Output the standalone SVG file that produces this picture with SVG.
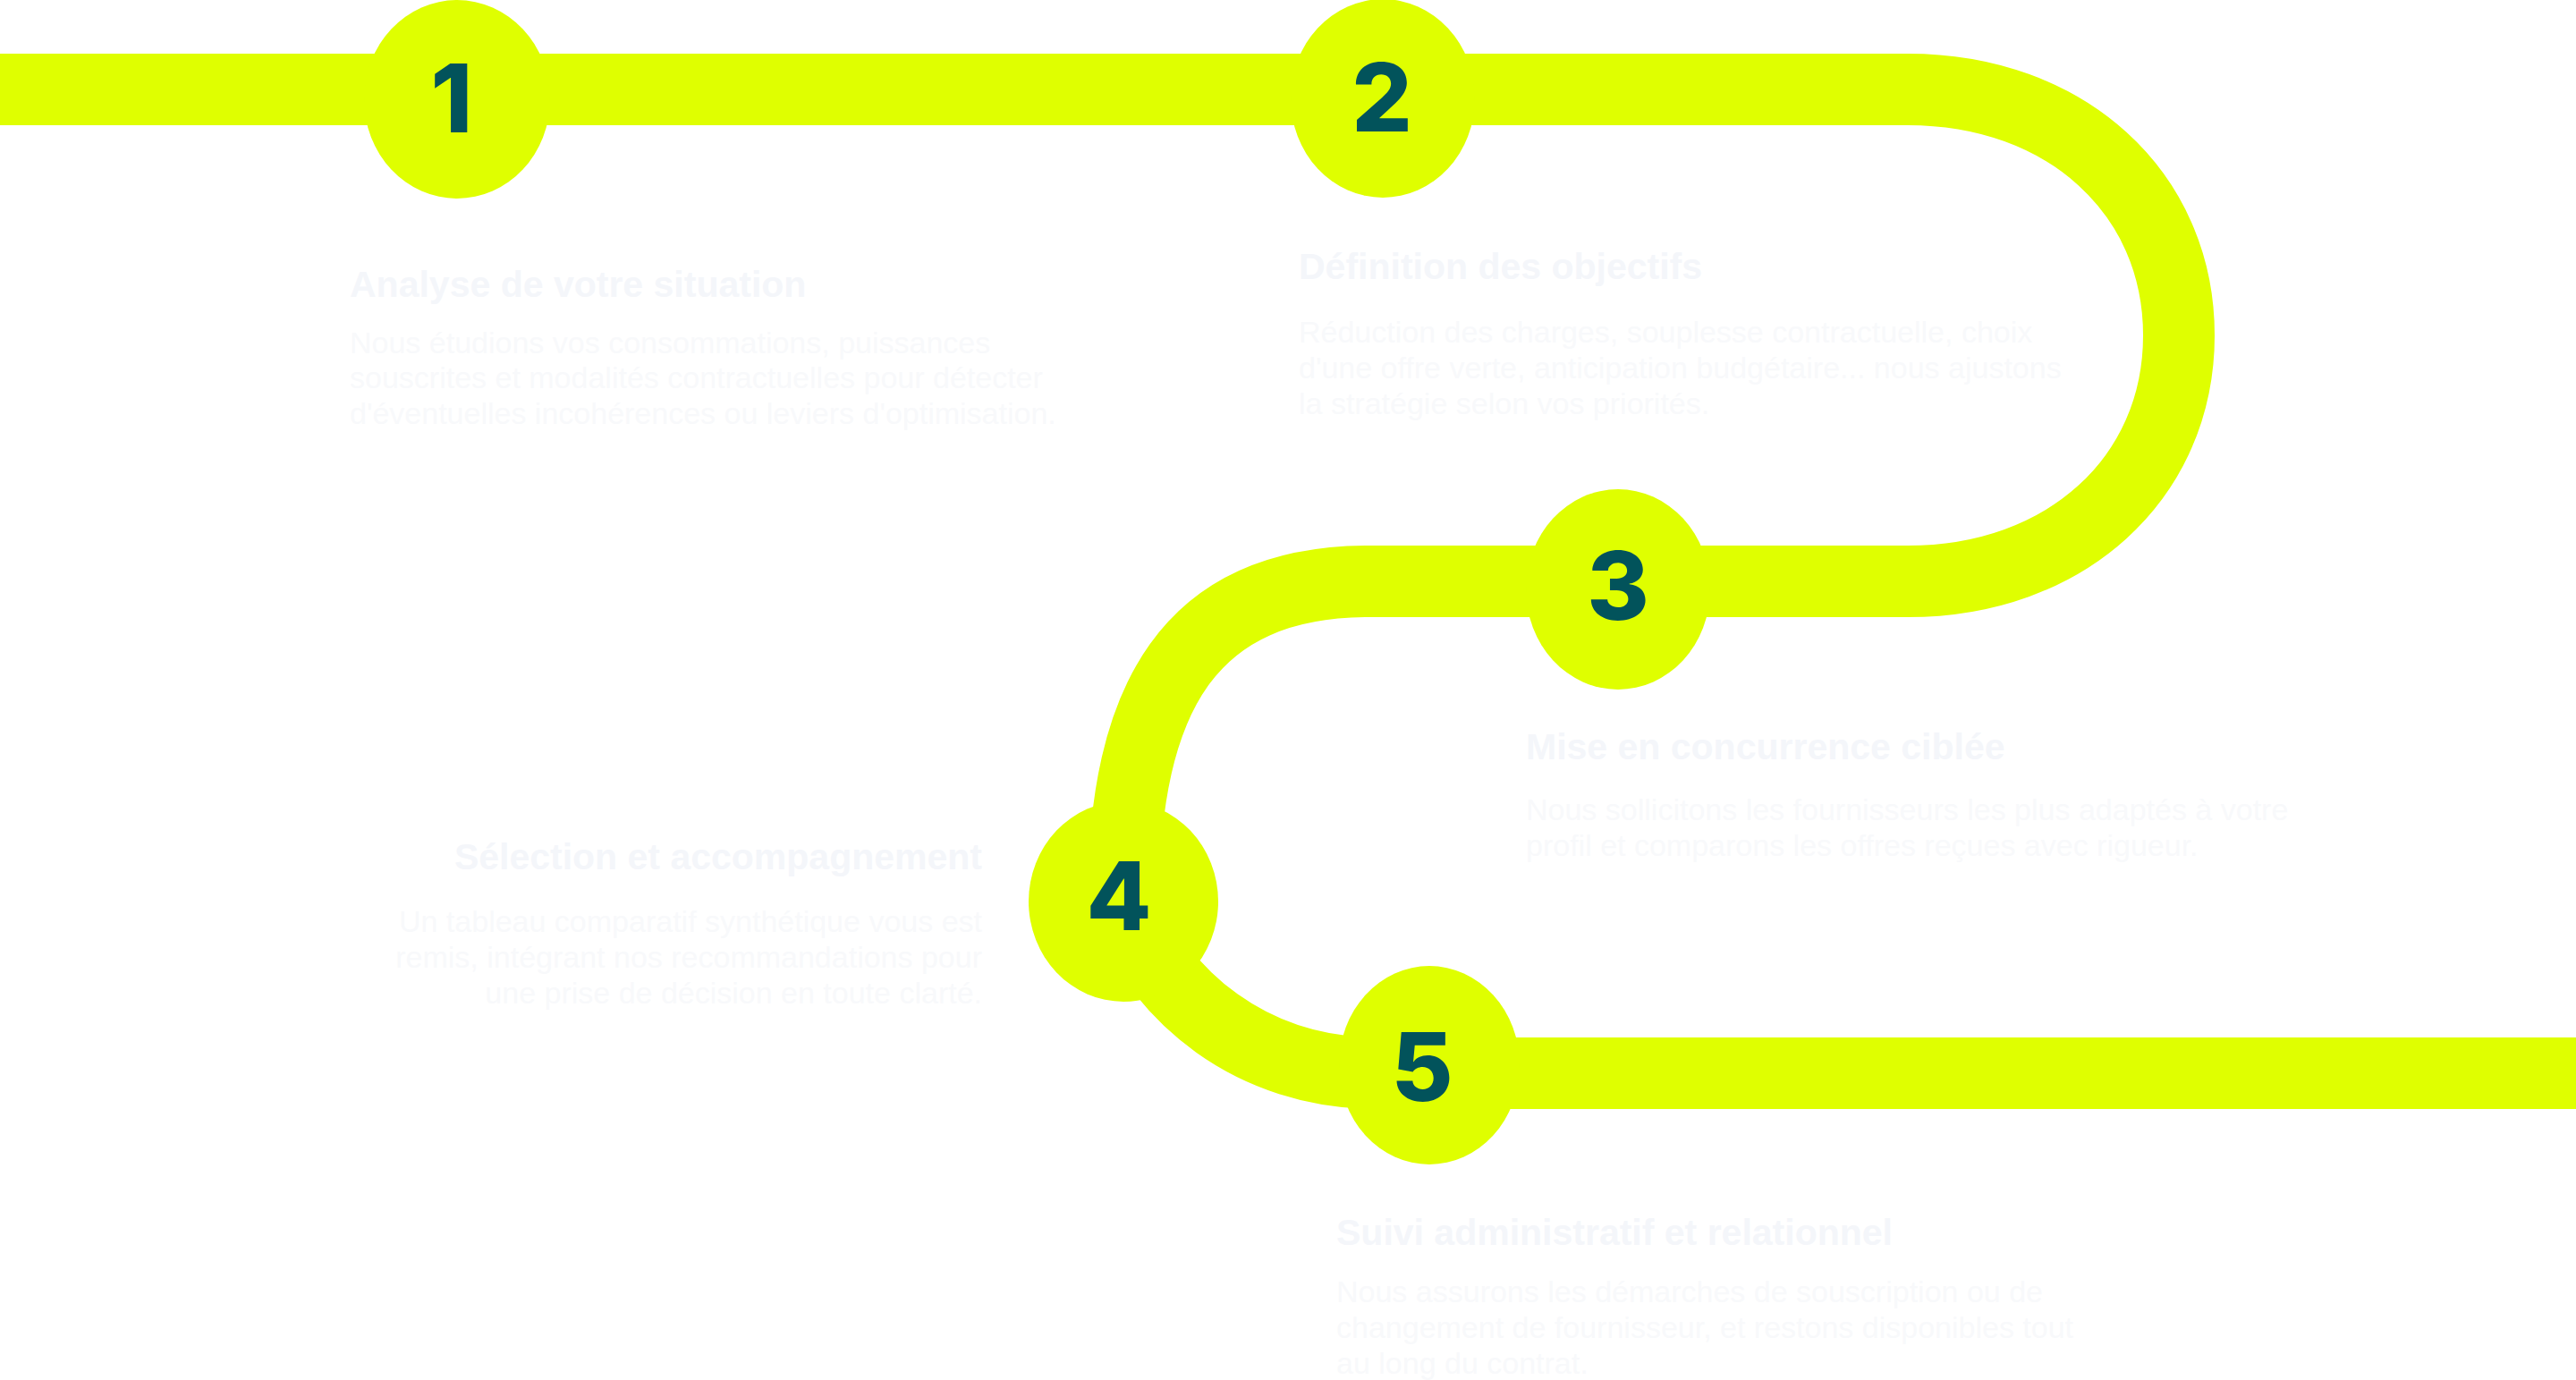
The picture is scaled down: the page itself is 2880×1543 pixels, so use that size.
<svg xmlns="http://www.w3.org/2000/svg" width="2880" height="1543" viewBox="0 0 2880 1543">
<style>
.track{fill:none;stroke:#DFFF00;stroke-width:80}
.dot{fill:#DFFF00}
.num{font-family:Inter,"Liberation Sans",sans-serif;font-weight:800;font-size:106px;fill:#02535B;text-anchor:middle}
.ttl{font-family:"Liberation Sans",Arial,sans-serif;font-weight:700;font-size:41px;fill:#F4F6FA}
.txt{font-family:"Liberation Sans",Arial,sans-serif;font-weight:400;font-size:34px;fill:#F8F9FB}
.end{text-anchor:end}
</style>
<rect width="2880" height="1543" fill="#FFFFFF"/>
<g id="connectors">
<path class="track" d="M0,100 H2133 C2309,100 2436,215 2436,375 C2436,535 2309,650 2133,650 H1531 C1330,650 1256,780 1256,1008 C1296,1115 1400,1200 1540,1200 H2880"/>
</g>
<g id="step1">
<ellipse class="dot" cx="511" cy="111" rx="104" ry="111"/>
<text class="num" x="505" y="148">1</text>
<text class="ttl" x="391" y="332">Analyse de votre situation</text>
<text class="txt" x="391" y="395">Nous étudions vos consommations, puissances</text>
<text class="txt" x="391" y="434">souscrites et modalités contractuelles pour détecter</text>
<text class="txt" x="391" y="474">d'éventuelles incohérences ou leviers d'optimisation.</text>
</g>
<g id="step2">
<ellipse class="dot" cx="1546" cy="110" rx="103" ry="111"/>
<text class="num" x="1545" y="147">2</text>
<text class="ttl" x="1452" y="312">Définition des objectifs</text>
<text class="txt" x="1452" y="383">Réduction des charges, souplesse contractuelle, choix</text>
<text class="txt" x="1452" y="423">d'une offre verte, anticipation budgétaire... nous ajustons</text>
<text class="txt" x="1452" y="463">la stratégie selon vos priorités.</text>
</g>
<g id="step3">
<ellipse class="dot" cx="1809" cy="659" rx="103" ry="112"/>
<text class="num" x="1809" y="693">3</text>
<text class="ttl" x="1706" y="849">Mise en concurrence ciblée</text>
<text class="txt" x="1706" y="917">Nous sollicitons les fournisseurs les plus adaptés à votre</text>
<text class="txt" x="1706" y="957">profil et comparons les offres reçues avec rigueur.</text>
</g>
<g id="step4">
<ellipse class="dot" cx="1256" cy="1008" rx="106" ry="112"/>
<text class="num" x="1251" y="1040">4</text>
<text class="ttl end" x="1098" y="972">Sélection et accompagnement</text>
<text class="txt end" x="1098" y="1042">Un tableau comparatif synthétique vous est</text>
<text class="txt end" x="1098" y="1082">remis, intégrant nos recommandations pour</text>
<text class="txt end" x="1098" y="1122">une prise de décision en toute clarté.</text>
</g>
<g id="step5">
<ellipse class="dot" cx="1598" cy="1191" rx="101" ry="111"/>
<text class="num" x="1590" y="1231">5</text>
<text class="ttl" x="1494" y="1392">Suivi administratif et relationnel</text>
<text class="txt" x="1494" y="1456">Nous assurons les démarches de souscription ou de</text>
<text class="txt" x="1494" y="1496">changement de fournisseur, et restons disponibles tout</text>
<text class="txt" x="1494" y="1536">au long du contrat.</text>
</g>
</svg>
